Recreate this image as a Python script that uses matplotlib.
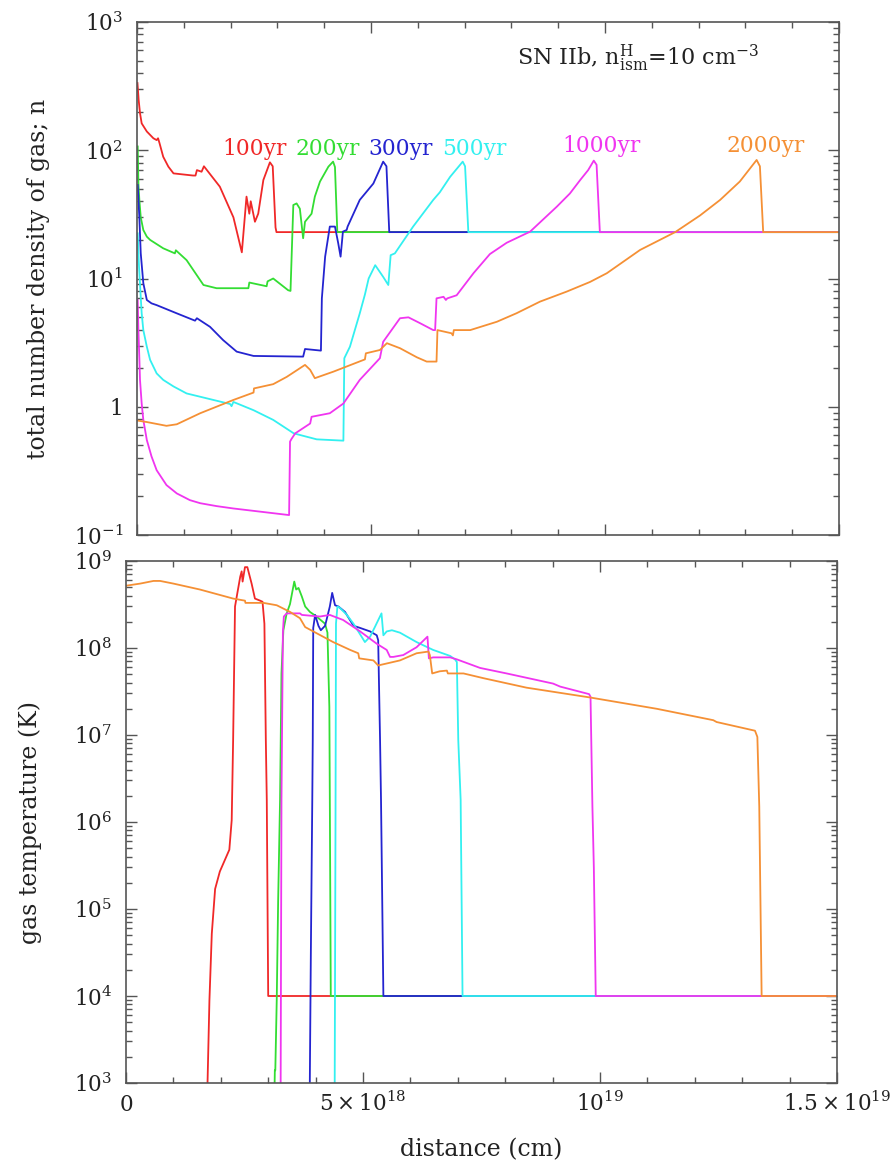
import matplotlib
matplotlib.use("Agg")
import matplotlib.pyplot as plt
from matplotlib.ticker import FixedLocator, LogLocator, NullFormatter, MultipleLocator

plt.rcParams['font.family'] = ['DejaVu Serif']
plt.rcParams['mathtext.fontset'] = 'dejavuserif'

# ---------------- data (distance in units of 1e18 cm) ----------------
ages = ["100yr", "200yr", "300yr", "500yr", "1000yr", "2000yr"]
colors = ["#f02828", "#33dd33", "#2424d0", "#33f0f0", "#f035f0", "#f59035"]

# total number density n (cm^-3)
x_n_100 = [0.01, 0.036, 0.064, 0.10, 0.21, 0.35, 0.42, 0.45, 0.48, 0.56, 0.67, 0.78, 1.20, 1.25, 1.28,
           1.38, 1.43, 1.77, 2.06, 2.24, 2.34, 2.40, 2.43, 2.52, 2.59, 2.70, 2.84, 2.90, 2.96, 2.98, 15.0]
n_100 = [334, 245, 195, 162, 140, 124, 120, 124, 114, 89, 74.5, 66, 63.5, 63.5, 70,
         68, 75, 52, 30, 16, 43.5, 32, 40, 27.7, 32, 58.6, 80.5, 75, 25, 23, 23]

x_n_200 = [0.015, 0.03, 0.05, 0.08, 0.135, 0.21, 0.28, 0.56, 0.81, 0.83, 1.06, 1.42, 1.70, 2.38, 2.40,
           2.77, 2.79, 2.91, 3.23, 3.28, 3.34, 3.41, 3.48, 3.55, 3.59, 3.73, 3.80, 3.91, 4.09, 4.19,
           4.23, 4.28, 15.0]
n_200 = [107, 55, 41, 30, 23.9, 21.2, 20, 17.2, 15.7, 16.6, 13.9, 8.9, 8.4, 8.4, 9.3,
         8.7, 9.5, 10, 8.1, 8.0, 37.4, 38.5, 35, 20.6, 27.7, 32, 43.5, 57, 74.5, 81.5,
         74, 23, 23]

x_n_300 = [0.015, 0.05, 0.08, 0.135, 0.21, 0.31, 0.42, 0.85, 1.24, 1.28, 1.56, 1.84, 2.13, 2.49, 3.55,
           3.59, 3.93, 3.95, 4.02, 4.12, 4.23, 4.30, 4.35, 4.40, 4.48, 4.50, 4.76, 5.05, 5.26, 5.33,
           5.39, 15.0]
n_300 = [53.6, 30, 15.7, 9.2, 6.8, 6.4, 6.2, 5.35, 4.69, 4.9, 4.2, 3.31, 2.69, 2.49, 2.46,
         2.82, 2.74, 7.0, 14.8, 25.4, 25.4, 18.8, 14.8, 23.2, 23.9, 25.4, 41, 55, 81.5, 75,
         23, 23]

x_n_500 = [0.015, 0.04, 0.064, 0.10, 0.135, 0.21, 0.28, 0.42, 0.56, 0.78, 1.06, 1.99, 2.02, 2.06, 2.49,
           2.91, 3.35, 3.84, 4.41, 4.43, 4.55, 4.76, 4.87, 4.95, 5.09, 5.26, 5.37, 5.42, 5.51, 5.90,
           6.33, 6.47, 6.69, 6.96, 7.01, 7.08, 15.0]
n_500 = [22.5, 13.0, 9.0, 5.35, 3.96, 2.94, 2.32, 1.82, 1.62, 1.44, 1.27, 1.05, 1.01, 1.09, 0.94,
         0.79, 0.62, 0.557, 0.544, 2.39, 2.94, 5.35, 7.5, 10.0, 12.7, 10.3, 8.9, 15.2, 15.7, 25.4,
         41, 47, 62, 81.5, 75, 23, 23]

x_n_1000 = [0.015, 0.03, 0.05, 0.064, 0.10, 0.135, 0.21, 0.31, 0.42, 0.63, 0.85, 1.13, 1.35, 1.70, 2.06,
            3.25, 3.27, 3.30, 3.38, 3.70, 3.73, 4.12, 4.41, 4.76, 5.19, 5.26, 5.62, 5.80, 6.05, 6.33,
            6.37, 6.40, 6.55, 6.60, 6.63, 6.83, 7.19, 7.54, 7.90, 8.40, 8.97, 9.25, 9.47, 9.64, 9.76,
            9.82, 9.89, 15.0]
n_1000 = [6.8, 3.96, 2.4, 1.62, 1.06, 0.79, 0.55, 0.41, 0.32, 0.245, 0.211, 0.187, 0.177, 0.168, 0.161,
          0.143, 0.535, 0.56, 0.62, 0.74, 0.835, 0.89, 1.06, 1.62, 2.39, 3.21, 4.9, 4.98, 4.48, 3.96,
          3.96, 7.0, 7.2, 6.8, 7.0, 7.4, 11.0, 15.5, 19.0, 23.2, 36.3, 46, 58.6, 70, 83,
          77, 23, 23]

x_n_2000 = [0.015, 0.21, 0.63, 0.85, 1.35, 2.06, 2.49, 2.50, 2.91, 3.20, 3.59, 3.70, 3.80, 4.20, 4.87,
            4.89, 5.19, 5.34, 5.62, 5.98, 6.19, 6.40, 6.42, 6.72, 6.75, 6.77, 7.12, 7.69, 8.11, 8.61,
            9.18, 9.68, 10.04, 10.75, 11.5, 12.03, 12.46, 12.88, 13.24, 13.31, 13.38, 15.0]
n_2000 = [0.78, 0.76, 0.71, 0.73, 0.89, 1.13, 1.29, 1.39, 1.50, 1.71, 2.12, 1.94, 1.67, 1.88, 2.34,
          2.61, 2.77, 3.13, 2.86, 2.43, 2.25, 2.25, 3.96, 3.74, 3.6, 3.96, 3.96, 4.6, 5.36, 6.6,
          7.9, 9.4, 11.0, 16.7, 23, 31, 41, 57, 84, 75, 23, 23]

# gas temperature T (K)
x_T_100 = [1.70, 1.72, 1.76, 1.81, 1.88, 1.98, 2.18, 2.23, 2.26, 2.30, 2.35, 2.41, 2.44, 2.46, 2.51,
           2.56, 2.65, 2.72, 2.83, 2.88, 2.92, 2.95, 2.97, 3.00, 15.0]
T_100 = [3.2e2, 1e3, 8.9e3, 5.2e4, 1.7e5, 2.7e5, 4.8e5, 1.05e6, 8.7e6, 3.0e8, 4.3e8, 6.6e8, 7.6e8, 5.8e8, 8.5e8,
         8.5e8, 5.5e8, 3.7e8, 3.5e8, 3.4e8, 1.9e8, 8.7e6, 1.8e6, 1e4, 1e4]

x_T_200 = [3.12, 3.14, 3.15, 3.18, 3.21, 3.25, 3.28, 3.32, 3.39, 3.46, 3.55, 3.59, 3.64, 3.71, 3.78,
           3.88, 4.02, 4.20, 4.25, 4.29, 4.30, 4.32, 15.0]
T_200 = [3e2, 1.4e3, 1.4e3, 8.9e3, 1.26e5, 1.8e6, 5.1e7, 1.6e8, 2.5e8, 3.2e8, 5.8e8, 4.7e8, 4.9e8, 3.9e8, 3.0e8,
         2.6e8, 2.3e8, 1.9e8, 1.5e8, 2.1e7, 1.8e6, 1e4, 1e4]

x_T_300 = [3.87, 3.90, 3.93, 3.94, 3.95, 3.99, 4.06, 4.11, 4.20, 4.30, 4.35, 4.41, 4.48, 4.62, 4.80,
           4.94, 5.15, 5.29, 5.32, 5.36, 5.38, 5.43, 15.0]
T_300 = [3e2, 3.2e4, 1.8e6, 8.7e6, 1.7e8, 2.4e8, 1.8e8, 1.6e8, 1.8e8, 3.0e8, 4.3e8, 3.1e8, 3.0e8, 2.6e8, 1.8e8,
         1.7e8, 1.55e8, 1.4e8, 1.23e8, 8.7e6, 1.8e6, 1e4, 1e4]

x_T_500 = [4.40, 4.42, 4.43, 4.46, 4.51, 4.66, 4.80, 4.97, 5.04, 5.15, 5.25, 5.39, 5.43, 5.50, 5.61,
           5.78, 6.13, 6.48, 6.84, 6.94, 6.98, 7.01, 7.06, 7.10, 15.0]
T_500 = [3e2, 1e6, 1.9e8, 3.0e8, 2.9e8, 2.4e8, 1.9e8, 1.35e8, 1.17e8, 1.35e8, 1.74e8, 2.5e8, 1.4e8, 1.55e8, 1.6e8,
         1.5e8, 1.17e8, 9.5e7, 8.1e7, 7.4e7, 6.9e7, 8.7e6, 1.8e6, 1e4, 1e4]

x_T_1000 = [3.26, 3.28, 3.31, 3.33, 3.39, 3.67, 3.71, 4.09, 4.30, 4.58, 4.94, 5.29, 5.50, 5.57, 5.64,
            5.85, 6.13, 6.36, 6.39, 6.48, 6.84, 6.98, 7.47, 8.03, 9.01, 9.16, 9.77, 9.80, 9.84, 9.87,
            9.91, 15.0]
T_1000 = [3e2, 1.8e6, 1.5e8, 2.3e8, 2.5e8, 2.5e8, 2.4e8, 2.3e8, 2.4e8, 2.1e8, 1.55e8, 1.12e8, 9.5e7, 7.9e7, 7.9e7,
          8.3e7, 1.02e8, 1.35e8, 7.6e7, 7.8e7, 7.8e7, 7.4e7, 5.9e7, 5.1e7, 3.9e7, 3.6e7, 2.95e7, 2.75e7, 1.5e6, 3e5,
          1e4, 1e4]

x_T_2000 = [0.0, 0.30, 0.58, 0.72, 1.00, 1.56, 2.26, 2.51, 2.52, 2.90, 3.18, 3.46, 3.67, 3.78, 4.02,
            4.37, 4.73, 4.90, 4.92, 5.22, 5.32, 5.78, 6.13, 6.38, 6.41, 6.46, 6.62, 6.77, 6.79, 7.12,
            7.54, 8.45, 9.79, 11.20, 12.39, 12.46, 13.27, 13.32, 13.36, 13.41, 15.0]
T_2000 = [5.2e8, 5.5e8, 5.9e8, 5.9e8, 5.5e8, 4.7e8, 3.7e8, 3.5e8, 3.3e8, 3.3e8, 3.1e8, 2.6e8, 2.2e8, 1.74e8, 1.48e8,
          1.17e8, 9.5e7, 8.7e7, 7.6e7, 7.2e7, 6.3e7, 7.2e7, 8.7e7, 9.1e7, 8.3e7, 5.1e7, 5.4e7, 5.5e7, 5.1e7, 5.1e7,
          4.5e7, 3.5e7, 2.7e7, 2.0e7, 1.48e7, 1.41e7, 1.12e7, 9.5e6, 1.5e6, 1e4, 1e4]

n_x = [x_n_100, x_n_200, x_n_300, x_n_500, x_n_1000, x_n_2000]
n_y = [n_100, n_200, n_300, n_500, n_1000, n_2000]
T_x = [x_T_100, x_T_200, x_T_300, x_T_500, x_T_1000, x_T_2000]
T_y = [T_100, T_200, T_300, T_500, T_1000, T_2000]

n_ticks = [0.1, 1, 10, 100, 1000]
n_ticklabels = [r'$10^{-1}$', '1', r'$10^{1}$', r'$10^{2}$', r'$10^{3}$']
T_ticks = [1e3, 1e4, 1e5, 1e6, 1e7, 1e8, 1e9]
T_ticklabels = [r'$10^{3}$', r'$10^{4}$', r'$10^{5}$', r'$10^{6}$', r'$10^{7}$', r'$10^{8}$', r'$10^{9}$']
x_ticks = [0, 5, 10, 15]
x_ticklabels = ['0', r'$5\times10^{18}$', r'$10^{19}$', r'$1.5\times10^{19}$']

label_pos = [(0.168, 0.741), (0.271, 0.741), (0.375, 0.741), (0.480, 0.741), (0.662, 0.747), (0.896, 0.747)]

# ---------------- figure ----------------
W, H = 891, 1160
fig = plt.figure(figsize=(W / 100, H / 100), dpi=100)
ax1 = fig.add_axes([137 / W, 1 - 535 / H, (839 - 137) / W, (535 - 22) / H])
ax2 = fig.add_axes([126 / W, 1 - 1083 / H, (837 - 126) / W, (1083 - 561) / H])

axis_col = '#555555'
txt_col = '#222222'
lw = 1.3
for xs, ys, c in zip(n_x, n_y, colors):
    ax1.plot(xs, ys, color=c, lw=lw, solid_joinstyle='round')
for xs, ys, c in zip(T_x, T_y, colors):
    ax2.plot(xs, ys, color=c, lw=lw, solid_joinstyle='round')

for ax in (ax1, ax2):
    ax.set_yscale('log')
    ax.set_xlim(0, 15)
    ax.xaxis.set_major_locator(FixedLocator(x_ticks))
    ax.xaxis.set_minor_locator(MultipleLocator(1))
    ax.yaxis.set_minor_locator(LogLocator(base=10, subs=range(2, 10), numticks=20))
    ax.yaxis.set_minor_formatter(NullFormatter())
    ax.tick_params(which='both', direction='in', top=True, right=True, colors=axis_col,
                   labelcolor=txt_col, labelsize=15.5, width=1.0)
    ax.tick_params(which='major', length=8)
    ax.tick_params(which='minor', length=4.5)
    for s in ax.spines.values():
        s.set_color(axis_col)
        s.set_linewidth(1.2)

ax1.set_ylim(0.1, 1000)
ax1.set_yticks(n_ticks, n_ticklabels)
ax1.tick_params(axis='y', pad=10)
ax1.set_xticklabels([])
ax1.set_ylabel('total number density of gas; n', fontsize=17, color=txt_col)
ax1.yaxis.set_label_coords(-0.124, 0.5)

ax2.set_ylim(1e3, 1e9)
ax2.set_yticks(T_ticks, T_ticklabels)
ax2.tick_params(axis='y', pad=10)
ax2.set_xticks(x_ticks, x_ticklabels, va='baseline')
ax2.tick_params(axis='x', pad=20.5)
ax2.set_ylabel('gas temperature (K)', fontsize=17, color=txt_col)
ax2.yaxis.set_label_coords(-0.118, 0.5)
ax2.set_xlabel('distance (cm)', fontsize=17, color=txt_col)
ax2.xaxis.set_label_coords(0.5, -0.105)

for lab, (px, py), c in zip(ages, label_pos, colors):
    ax1.text(px, py, lab, color=c, fontsize=15.7, ha='center', va='baseline', transform=ax1.transAxes)

ax1.text(0.714, 0.916, r'SN IIb, n$^{\mathrm{H}}_{\mathrm{ism}}$=10 cm$^{-3}$', fontsize=16,
         ha='center', va='baseline', transform=ax1.transAxes, color=txt_col)

fig.savefig('out.png', dpi=100)
